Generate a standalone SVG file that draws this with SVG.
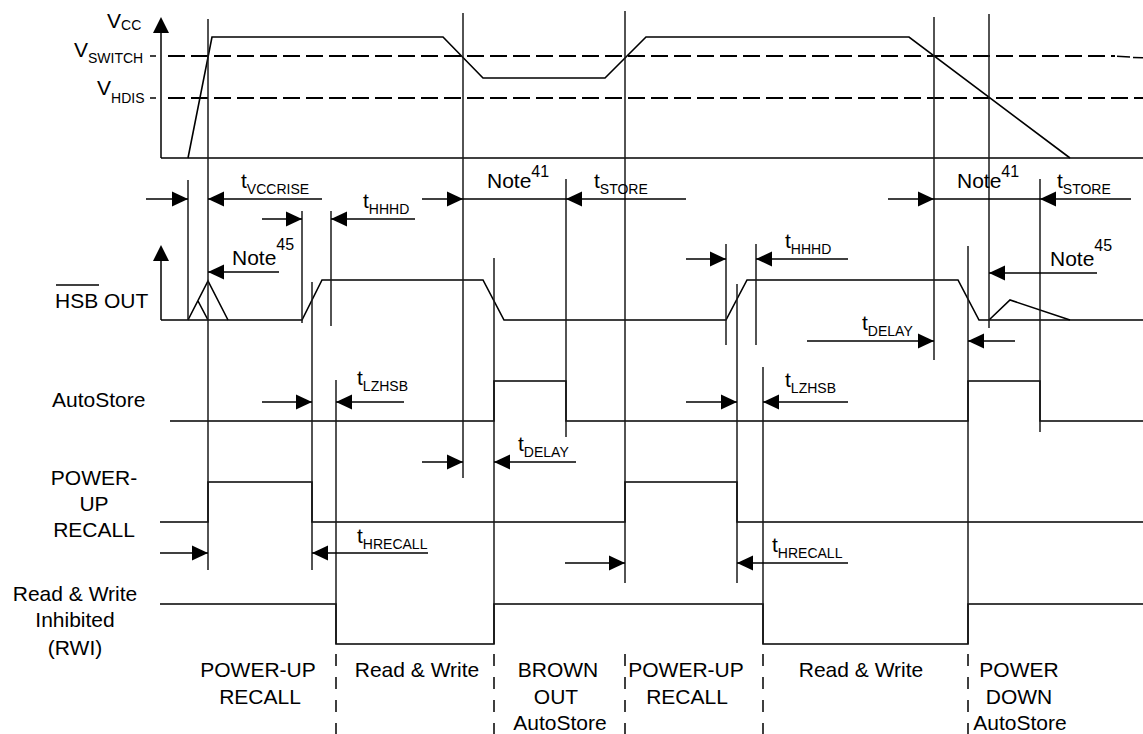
<svg xmlns="http://www.w3.org/2000/svg" width="1143" height="734" viewBox="0 0 1143 734">
<style>
text{font-family:"Liberation Sans",Arial,sans-serif;font-size:21px;fill:#000}
.sub{font-size:14px}
.sup{font-size:16px}
.c{text-anchor:middle}
.sig{stroke:#000;stroke-width:1.6;fill:none}
.vl{stroke:#1a1a1a;stroke-width:1.5;fill:none}
.dl{stroke:#000;stroke-width:2.2;stroke-dasharray:17 6;fill:none}
.ph{stroke:#000;stroke-width:1.5;stroke-dasharray:12 11;fill:none}
.ar{stroke:#000;stroke-width:1.5;fill:none;marker-end:url(#ah)}
.ln{stroke:#000;stroke-width:1.5;fill:none}
</style>
<defs>
<marker id="ah" markerUnits="userSpaceOnUse" markerWidth="16" markerHeight="15" refX="16" refY="7.5" orient="auto" overflow="visible">
<path d="M0,0L16,7.5L0,15z" fill="#000"/>
</marker>
</defs>
<rect width="1143" height="734" fill="#fff"/>

<g id="vcc-section">
<line class="ln" x1="161" y1="158" x2="161" y2="32"/>
<polygon points="161,17 153,33 169,33" fill="#000"/>
<line class="ln" x1="161" y1="158" x2="1143" y2="158"/>
<line class="dl" x1="168" y1="56" x2="1115" y2="56"/>
<path class="ln" d="M1117,56.2L1130,57M1133,57.5L1143,57.8" stroke-width="2.2"/>
<line class="dl" x1="168" y1="98" x2="1143" y2="98"/>
<line class="ln" x1="150" y1="56" x2="156" y2="56" stroke-width="2"/>
<line class="ln" x1="150" y1="98" x2="156" y2="98" stroke-width="2"/>
<path class="sig" d="M188,158L212,37L443,37L483,78L605,78L646,37L909,37L1070,158"/>
<text x="107" y="28" font-size="22">V<tspan class="sub" dy="2">CC</tspan></text>
<text x="74" y="57" font-size="22">V<tspan class="sub" dy="6">SWITCH</tspan></text>
<text x="97" y="95" font-size="22">V<tspan class="sub" dy="8">HDIS</tspan></text>
</g>

<g id="signals">
<g id="hsb-out">
<line class="ln" x1="161" y1="320" x2="161" y2="260"/>
<polygon points="161,245 153,261 169,261" fill="#000"/>
<path class="sig" d="M161,320L302,320L322,280L483,280L504,320L726,320L747,280L958,280L979,320L1143,320"/>
<path class="sig" d="M188,320L208,281L228,320M198,301L208,320"/>
<path class="sig" d="M989,320L1010,300L1070,320"/>
<text x="55" y="308">HSB OUT</text>
<line class="ln" x1="56" y1="285" x2="99" y2="285"/>
</g>
<g id="autostore">
<path class="sig" d="M170,421L494,421L494,381L566,381L566,421L968,421L968,381L1040,381L1040,421L1143,421"/>
<text x="52" y="407">AutoStore</text>
</g>
<g id="power-up-recall">
<path class="sig" d="M160,522L208,522L208,482L312,482L312,522L625,522L625,482L737,482L737,522L1143,522"/>
<text class="c" x="94" y="485">POWER-</text>
<text class="c" x="94" y="511">UP</text>
<text class="c" x="94" y="537">RECALL</text>
</g>
<g id="rwi">
<path class="sig" d="M160,604L336,604L336,644L494,644L494,604L763,604L763,644L968,644L968,604L1143,604"/>
<text class="c" x="75" y="601">Read &amp; Write</text>
<text class="c" x="75" y="627">Inhibited</text>
<text class="c" x="75" y="655">(RWI)</text>
</g>
</g>

<g id="connectors">
<line class="vl" x1="208" y1="19" x2="208" y2="570"/>
<line class="vl" x1="463" y1="13" x2="463" y2="478"/>
<line class="vl" x1="625" y1="11" x2="625" y2="583"/>
<line class="vl" x1="934" y1="17" x2="934" y2="360"/>
<line class="vl" x1="989" y1="14" x2="989" y2="328"/>
<line class="vl" x1="188" y1="180" x2="188" y2="320"/>
<line class="vl" x1="302" y1="211" x2="302" y2="323"/>
<line class="vl" x1="331" y1="211" x2="331" y2="326"/>
<line class="vl" x1="312" y1="282" x2="312" y2="570"/>
<line class="vl" x1="336" y1="380" x2="336" y2="644"/>
<line class="vl" x1="494" y1="258" x2="494" y2="644"/>
<line class="vl" x1="566" y1="179" x2="566" y2="437"/>
<line class="vl" x1="726" y1="244" x2="726" y2="345"/>
<line class="vl" x1="756" y1="244" x2="756" y2="345"/>
<line class="vl" x1="737" y1="284" x2="737" y2="583"/>
<line class="vl" x1="763" y1="367" x2="763" y2="644"/>
<line class="vl" x1="968" y1="246" x2="968" y2="644"/>
<line class="vl" x1="1040" y1="179" x2="1040" y2="432"/>

<line class="ph" x1="336" y1="654" x2="336" y2="734"/>
<line class="ph" x1="494" y1="654" x2="494" y2="734"/>
<line class="ph" x1="625" y1="654" x2="625" y2="734"/>
<line class="ph" x1="763" y1="654" x2="763" y2="734"/>
<line class="ph" x1="968" y1="654" x2="968" y2="734"/>

<line class="ar" x1="146" y1="199" x2="188" y2="199"/>
<line class="ar" x1="322" y1="199" x2="208" y2="199"/>
<line class="ar" x1="262" y1="219" x2="302" y2="219"/>
<line class="ar" x1="415" y1="219" x2="331" y2="219"/>
<line class="ar" x1="422" y1="199" x2="463" y2="199"/>
<line class="ln" x1="463" y1="199" x2="566" y2="199"/>
<line class="ar" x1="686" y1="199" x2="566" y2="199"/>
<line class="ar" x1="279" y1="272" x2="208" y2="272"/>
<line class="ar" x1="686" y1="259" x2="726" y2="259"/>
<line class="ar" x1="848" y1="259" x2="756" y2="259"/>
<line class="ar" x1="888" y1="199" x2="934" y2="199"/>
<line class="ln" x1="934" y1="199" x2="1040" y2="199"/>
<line class="ar" x1="1131" y1="199" x2="1040" y2="199"/>
<line class="ar" x1="1097" y1="273" x2="989" y2="273"/>
<line class="ar" x1="807" y1="341" x2="934" y2="341"/>
<line class="ar" x1="1015" y1="341" x2="968" y2="341"/>
<line class="ar" x1="262" y1="402" x2="312" y2="402"/>
<line class="ar" x1="404" y1="402" x2="336" y2="402"/>
<line class="ar" x1="686" y1="402" x2="737" y2="402"/>
<line class="ar" x1="848" y1="402" x2="763" y2="402"/>
<line class="ar" x1="422" y1="462" x2="463" y2="462"/>
<line class="ar" x1="576" y1="462" x2="494" y2="462"/>
<line class="ar" x1="160" y1="553" x2="208" y2="553"/>
<line class="ar" x1="428" y1="553" x2="312" y2="553"/>
<line class="ar" x1="565" y1="563" x2="625" y2="563"/>
<line class="ar" x1="848" y1="563" x2="737" y2="563"/>
</g>

<g id="timing-labels">
<text x="241" y="188">t<tspan class="sub" dy="6">VCCRISE</tspan></text>
<text x="363" y="208">t<tspan class="sub" dy="6">HHHD</tspan></text>
<text x="487" y="188">Note<tspan class="sup" dy="-11">41</tspan></text>
<text x="594" y="188">t<tspan class="sub" dy="6">STORE</tspan></text>
<text x="232" y="265">Note<tspan class="sup" dy="-15">45</tspan></text>
<text x="785" y="248">t<tspan class="sub" dy="6">HHHD</tspan></text>
<text x="957" y="188">Note<tspan class="sup" dy="-11">41</tspan></text>
<text x="1057" y="188">t<tspan class="sub" dy="6">STORE</tspan></text>
<text x="1050" y="266">Note<tspan class="sup" dy="-15">45</tspan></text>
<text x="862" y="330">t<tspan class="sub" dy="6">DELAY</tspan></text>
<text x="357" y="385">t<tspan class="sub" dy="6">LZHSB</tspan></text>
<text x="785" y="387">t<tspan class="sub" dy="6">LZHSB</tspan></text>
<text x="518" y="451">t<tspan class="sub" dy="6">DELAY</tspan></text>
<text x="357" y="543">t<tspan class="sub" dy="6">HRECALL</tspan></text>
<text x="772" y="552">t<tspan class="sub" dy="6">HRECALL</tspan></text>
</g>

<g id="phase-labels">
<text class="c" x="258" y="677">POWER-UP</text>
<text class="c" x="260" y="704">RECALL</text>
<text class="c" x="417" y="677">Read &amp; Write</text>
<text class="c" x="558" y="677">BROWN</text>
<text class="c" x="556" y="704">OUT</text>
<text class="c" x="560" y="730">AutoStore</text>
<text class="c" x="686" y="677">POWER-UP</text>
<text class="c" x="687" y="704">RECALL</text>
<text class="c" x="861" y="677">Read &amp; Write</text>
<text class="c" x="1019" y="677">POWER</text>
<text class="c" x="1019" y="704">DOWN</text>
<text class="c" x="1020" y="730">AutoStore</text>
</g>
</svg>
